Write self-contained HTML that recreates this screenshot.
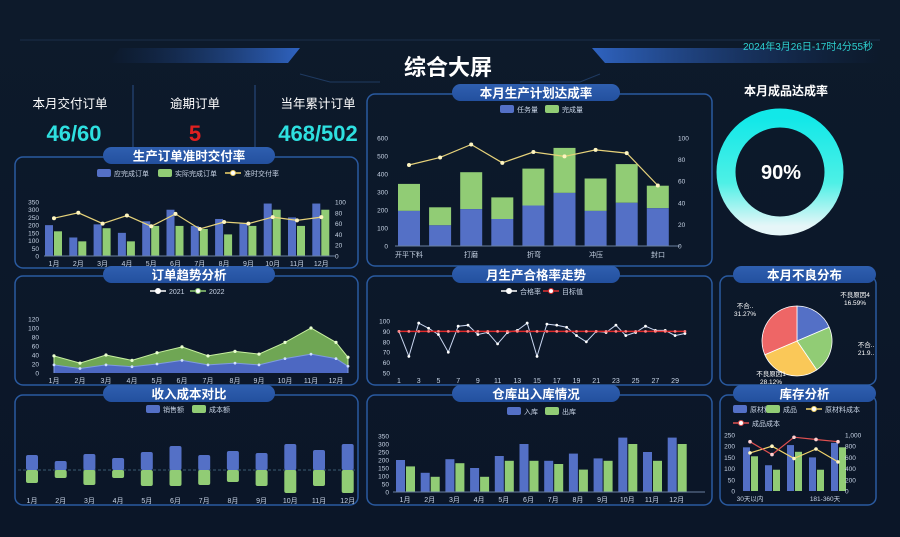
<!DOCTYPE html>
<html><head><meta charset="utf-8">
<style>
html,body{margin:0;padding:0;background:#0b1728;}
svg{display:block;font-family:"Liberation Sans","Noto Sans CJK SC",sans-serif;}
</style></head>
<body>
<svg id="s" width="900" height="537" viewBox="0 0 900 537" xmlns="http://www.w3.org/2000/svg">
<defs>
<linearGradient id="bg" x1="0" y1="0" x2="0" y2="1"><stop offset="0" stop-color="#0d1a2b"/><stop offset="1" stop-color="#0b1628"/></linearGradient>
<linearGradient id="ban" x1="0" y1="0" x2="1" y2="0"><stop offset="0" stop-color="#1b3d78" stop-opacity="0"/><stop offset="1" stop-color="#2f63c0"/></linearGradient>
<linearGradient id="ban2" x1="0" y1="0" x2="1" y2="0"><stop offset="0" stop-color="#2f63c0"/><stop offset="1" stop-color="#1b3d78" stop-opacity="0"/></linearGradient>
<linearGradient id="don" x1="0" y1="0" x2="0" y2="1"><stop offset="0" stop-color="#12e8e8"/><stop offset="0.6" stop-color="#4ef0e6"/><stop offset="1" stop-color="#e6f6f8"/></linearGradient>
<linearGradient id="pill" x1="0" y1="0" x2="0" y2="1"><stop offset="0" stop-color="#2f5fb0"/><stop offset="1" stop-color="#23509e"/></linearGradient>
</defs>
<rect width="900" height="537" fill="url(#bg)"/>
<g id="g"></g>
</svg>
<script>
var g=document.getElementById('g'),h='';
function R(x,y,w,hh,f,ex){h+='<rect x="'+x+'" y="'+y+'" width="'+w+'" height="'+hh+'" fill="'+f+'" '+(ex||'')+'/>';}
function T(x,y,t,sz,f,ex){h+='<text x="'+x+'" y="'+y+'" font-size="'+sz+'" fill="'+f+'" '+(ex||'text-anchor="middle"')+'>'+t+'</text>';}
function P(pts,st,w,f){h+='<polyline points="'+pts.map(function(p){return p[0].toFixed(1)+','+p[1].toFixed(1)}).join(' ')+'" fill="'+(f||'none')+'" stroke="'+st+'" stroke-width="'+w+'"/>';}
function C(x,y,r,f,s){h+='<circle cx="'+x+'" cy="'+y+'" r="'+r+'" fill="'+f+'" '+(s?'stroke="'+s+'" stroke-width="1"':'')+'/>';}
var B='#5470c6',G='#91cc75',Y='#f2d46b',W='#fff',L='#c8d4e6';
h+='<line x1="20" y1="40" x2="880" y2="40" stroke="#1a2e4a" stroke-width="1"/>';
h+='<polygon points="120,48 300,48 288,63 108,63" fill="url(#ban)"/>';
h+='<polygon points="592,48 880,48 880,63 605,63" fill="url(#ban2)"/>';
h+='<polyline points="300,74 330,82 380,82" fill="none" stroke="#1f3a60"/><polyline points="520,82 580,82 600,74" fill="none" stroke="#1f3a60"/>';
T(448,75,'综合大屏',22,W,'text-anchor="middle" font-weight="bold"');
T(808,50,'2024年3月26日-17时4分55秒',10,'#2ed0d0');
T(70,108,'本月交付订单',12.5,W);T(195,108,'逾期订单',12.5,W);T(318,108,'当年累计订单',12.5,W);
T(74,141,'46/60',22,'#2ee0e0','text-anchor="middle" font-weight="bold"');
T(195,141,'5',22,'#e02020','text-anchor="middle" font-weight="bold"');
T(318,141,'468/502',22,'#2ee0e0','text-anchor="middle" font-weight="bold"');
h+='<line x1="133" y1="85" x2="133" y2="148" stroke="#2a4f88"/><line x1="255" y1="85" x2="255" y2="148" stroke="#2a4f88"/>';
function panel(x,y,w,hh,px,pw,title){h+='<rect x="'+x+'" y="'+y+'" width="'+w+'" height="'+hh+'" rx="8" fill="none" stroke="#2a5aa0" stroke-width="1.5"/>';
R(px,y-10,pw,17,'url(#pill)','rx="8.5"');T(px+pw/2,y+3.5,title,12.5,W,'text-anchor="middle" font-weight="bold"');}
panel(15,157,343,111,103,172,'生产订单准时交付率');
panel(15,276,343,109,103,172,'订单趋势分析');
panel(15,395,343,110,103,172,'收入成本对比');
panel(367,94,345,172,452,168,'本月生产计划达成率');
panel(367,276,345,109,452,168,'月生产合格率走势');
panel(367,395,345,110,452,168,'仓库出入库情况');
panel(720,276,156,109,733,143,'本月不良分布');
panel(720,395,156,110,733,143,'库存分析');
function lg(x,y,c,t){R(x,y-4,14,8,c,'rx="2"');T(x+17,y+3,t,7,L,'text-anchor="start"');}
function ll(x,y,c,t){h+='<line x1="'+x+'" y1="'+y+'" x2="'+(x+16)+'" y2="'+y+'" stroke="'+c+'" stroke-width="1.5"/>';C(x+8,y,2.5,'#fff',c);T(x+19,y+3,t,7,L,'text-anchor="start"');}
lg(97,173,B,'应完成订单');lg(158,173,G,'实际完成订单');ll(225,173,Y,'准时交付率');
var b1=[200,120,205,150,225,300,195,240,210,340,250,340],g1=[160,95,180,95,195,195,175,140,195,300,195,300],r1=[70,80,60,75,55,78,50,63,60,72,66,72];
var y0=256,sc=54/350,lp=[];
for(var i=0;i<12;i++){var cx=52+i*24.3;R(cx-7,y0-b1[i]*sc,8,b1[i]*sc,B);R(cx+2,y0-g1[i]*sc,8,g1[i]*sc,G);lp.push([cx+2,y0-r1[i]*0.54]);T(cx+2,266,(i+1)+'月',7,L);}
P(lp,'#e6d27a',1.2);lp.forEach(function(p){C(p[0],p[1],2,'#fff5c0')});
h+='<line x1="44" y1="256" x2="335" y2="256" stroke="#6a7fa0"/>';
[0,50,100,150,200,250,300,350].forEach(function(v){T(39,y0-v*sc+2.5,v,6.5,L,'text-anchor="end"')});
[0,20,40,60,80,100].forEach(function(v){T(335,y0-v*0.54+2.5,v,6.5,L,'text-anchor="start"')});
ll(150,291,'#fff','2021');ll(190,291,G,'2022');
var a2=[38,22,40,28,45,58,38,48,42,68,100,68,35],a1=[18,10,18,14,20,28,18,22,18,32,42,32,15],ax=[54,80,106,132,157,182,208,235,259,285,311,336,348];
var yb=373,s2=54/120,p2=[],p1=[];
for(i=0;i<13;i++){p2.push([ax[i],yb-a2[i]*s2]);p1.push([ax[i],yb-a1[i]*s2]);}
P([[54,yb]].concat(p2,[[348,yb]]),'#c8f0a0',1,'#6fa654');
P([[54,yb]].concat(p1,[[348,yb]]),'#7f9ae0',1,'#4d68c2');
p2.forEach(function(p){C(p[0],p[1],1.6,'#eaffd0')});p1.forEach(function(p){C(p[0],p[1],1.4,'#cfe0ff')});
[0,20,40,60,80,100,120].forEach(function(v){T(39,yb-v*s2+2.5,v,6.5,L,'text-anchor="end"')});
for(i=0;i<12;i++)T(ax[i],383,(i+1)+'月',7,L);
lg(146,409,B,'销售额');lg(192,409,G,'成本额');
var bt=[455,461,454,458,452,446,455,451,453,444,450,444],gb=[483,478,485,478,486,486,485,482,486,493,486,493];
h+='<line x1="18" y1="470" x2="355" y2="470" stroke="#3a5a70" stroke-dasharray="3,2"/>';
for(i=0;i<12;i++){var cx=32+i*28.7;R(cx-6,bt[i],12,470-bt[i],B,'rx="2"');R(cx-6,470,12,gb[i]-470,G,'rx="2"');T(cx,503,(i+1)+'月',7,L);}
lg(500,109,B,'任务量');lg(545,109,G,'完成量');
var b4=[195,115,205,150,225,295,195,240,210],t4=[345,215,410,270,430,545,375,455,335],r4=[75,82,94,77,87,83,89,86,56];
var y4=246,s4=108/600,lp4=[];
for(i=0;i<9;i++){var cx=409+i*31.1;R(cx-11,y4-t4[i]*s4,22,(t4[i]-b4[i])*s4,G);R(cx-11,y4-b4[i]*s4,22,b4[i]*s4,B);lp4.push([cx,y4-r4[i]*1.08]);}
P(lp4,'#e6d27a',1.2);lp4.forEach(function(p){C(p[0],p[1],2,'#fff5c0')});
h+='<line x1="395" y1="246" x2="680" y2="246" stroke="#6a7fa0"/>';
[0,100,200,300,400,500,600].forEach(function(v){T(388,y4-v*s4+2.5,v,6.5,L,'text-anchor="end"')});
[0,20,40,60,80,100].forEach(function(v){T(678,y4-v*1.08+2.5,v,6.5,L,'text-anchor="start"')});
[['开平下料',409],['打磨',471],['折弯',534],['冲压',596],['封口',658]].forEach(function(a){T(a[1],257,a[0],7,L)});
T(786,95,'本月成品达成率',12,W,'text-anchor="middle" font-weight="bold"');
h+='<circle cx="780" cy="172" r="54" fill="none" stroke="url(#don)" stroke-width="19"/>';
T(781,179,'90%',20,W,'text-anchor="middle" font-weight="bold"');
ll(501,291,'#fff','合格率');ll(543,291,'#e03030','目标值');
var q=[90,66,98,93,87,70,95,96,87,89,78,89,91,98,66,97,96,94,86,80,90,89,96,86,89,95,91,91,86,88],pq=[],pr=[];
for(i=0;i<30;i++){var xx=399+i*9.86;pq.push([xx,373-(q[i]-50)*1.04]);pr.push([xx,373-40*1.04]);}
P(pq,'#c9d6f0',1);pq.forEach(function(p){C(p[0],p[1],1.4,'#fff')});
P(pr,'#e02828',1.5);pr.forEach(function(p){C(p[0],p[1],1.4,'#ff8080')});
[50,60,70,80,90,100].forEach(function(v){T(390,373-(v-50)*1.04+2.5,v,6.5,L,'text-anchor="end"')});
for(i=1;i<30;i+=2)T(399+(i-1)*9.86,383,i,7,L);
function arc(cx,cy,r,a0,a1,c){var x0=cx+r*Math.sin(a0),y0=cy-r*Math.cos(a0),x1=cx+r*Math.sin(a1),y1=cy-r*Math.cos(a1);
h+='<path d="M'+cx+','+cy+' L'+x0.toFixed(1)+','+y0.toFixed(1)+' A'+r+','+r+' 0 '+((a1-a0)>Math.PI?1:0)+',1 '+x1.toFixed(1)+','+y1.toFixed(1)+'Z" fill="'+c+'" stroke="#fff" stroke-width="0.8"/>';}
var pc=797,pcy=341,pr2=35,acc=0;[[0.1859,'#5470c6'],[0.219,'#91cc75'],[0.281,'#fac858'],[0.3141,'#ee6666']].forEach(function(s){arc(pc,pcy,pr2,acc*2*Math.PI,(acc+s[0])*2*Math.PI,s[1]);acc+=s[0];});
T(855,297,'不良原因4',6.5,W);T(855,305,'16.59%',6.5,W);T(745,308,'不合..',6.5,W);T(745,316,'31.27%',6.5,W);
T(866,347,'不合..',6.5,W);T(866,355,'21.9..',6.5,W);T(771,376,'不良原因1',6.5,W);T(771,384,'28.12%',6.5,W);
lg(507,411,B,'入库');lg(545,411,G,'出库');
var y6=492,s6=56/350;
for(i=0;i<12;i++){var cx=403+i*24.7;R(cx-7,y6-b1[i]*s6,9,b1[i]*s6,B);R(cx+3,y6-g1[i]*s6,9,g1[i]*s6,G);T(cx+2,502,(i+1)+'月',7,L);}
h+='<line x1="393" y1="492" x2="705" y2="492" stroke="#6a7fa0"/>';
[0,50,100,150,200,250,300,350].forEach(function(v){T(389,y6-v*s6+2.5,v,6.5,L,'text-anchor="end"')});
lg(733,409,B,'原材料');lg(766,409,G,'成品');ll(806,409,Y,'原材料成本');ll(733,423,'#e05050','成品成本');
var b7=[195,115,205,150,215],g7=[155,95,175,95,195],yl=[680,800,580,750,520],rl=[880,650,960,920,880],y7=491,s7=56/250,py=[],prr=[];
for(i=0;i<5;i++){var cx=750+i*22;R(cx-7,y7-b7[i]*s7,7,b7[i]*s7,B);R(cx+1,y7-g7[i]*s7,7,g7[i]*s7,G);py.push([cx,y7-yl[i]*0.056]);prr.push([cx,y7-rl[i]*0.056]);}
P(py,Y,1.2);py.forEach(function(p){C(p[0],p[1],1.8,'#fff5c0')});P(prr,'#e05050',1.2);prr.forEach(function(p){C(p[0],p[1],1.8,'#ffd0d0')});
[0,50,100,150,200,250].forEach(function(v){T(735,y7-v*s7+2.5,v,6.5,L,'text-anchor="end"')});
[0,200,400,600,800,'1,000'].forEach(function(v,k){T(845,y7-k*200*0.056+2.5,v,6.5,L,'text-anchor="start"')});
T(750,501,'30天以内',6.5,L);T(825,501,'181-360天',6.5,L);
g.innerHTML=h;
</script>
</body></html>
